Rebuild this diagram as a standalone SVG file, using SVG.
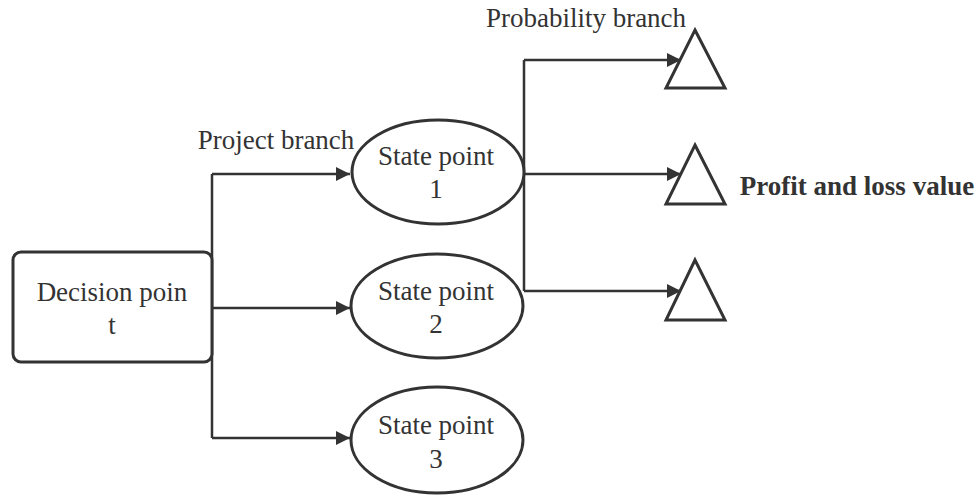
<svg xmlns="http://www.w3.org/2000/svg" width="978" height="499" viewBox="0 0 978 499">
<defs>
<style>
.s{fill:#fff;stroke:#333;stroke-width:3}
.c{fill:none;stroke:#333;stroke-width:2.5}
text{font-family:"Liberation Serif","Times New Roman",serif;font-size:27px;fill:#333;text-anchor:middle}
.b{font-weight:bold}
</style>
<marker id="a" viewBox="0 0 10 10" refX="10" refY="5" markerWidth="22" markerHeight="14" markerUnits="userSpaceOnUse" orient="auto"><path d="M0,0L10,5L0,10z" fill="#333"/></marker>
</defs>
<g id="connectors">
<path class="c" d="M212,174V438"/>
<path class="c" d="M212,174H350" marker-end="url(#a)"/>
<path class="c" d="M212,308H350" marker-end="url(#a)"/>
<path class="c" d="M212,438H350" marker-end="url(#a)"/>
<path class="c" d="M524,60V291"/>
<path class="c" d="M524,60H681" marker-end="url(#a)"/>
<path class="c" d="M524,174H681" marker-end="url(#a)"/>
<path class="c" d="M524,291H681" marker-end="url(#a)"/>
</g>
<g id="decision">
<rect class="s" x="13" y="252" width="199" height="110" rx="8"/>
<text x="112" y="301">Decision poin</text>
<text x="112" y="334">t</text>
</g>
<g id="state1">
<ellipse class="s" cx="438" cy="172" rx="86" ry="52"/>
<text x="436" y="165">State point</text>
<text x="436" y="198">1</text>
</g>
<g id="state2">
<ellipse class="s" cx="437" cy="306" rx="86" ry="52"/>
<text x="436" y="300">State point</text>
<text x="436" y="333">2</text>
</g>
<g id="state3">
<ellipse class="s" cx="437" cy="440" rx="86" ry="53"/>
<text x="436" y="434">State point</text>
<text x="436" y="468">3</text>
</g>
<g id="tri1"><path class="s" d="M695,30L725,88H666z"/></g>
<g id="tri2"><path class="s" d="M695,145L725,204H666z"/></g>
<g id="tri3"><path class="s" d="M695,260L725,320H666z"/></g>
<g id="labels">
<text x="276" y="149">Project branch</text>
<text x="586" y="27">Probability branch</text>
<text class="b" x="857" y="195">Profit and loss value</text>
</g>
</svg>
